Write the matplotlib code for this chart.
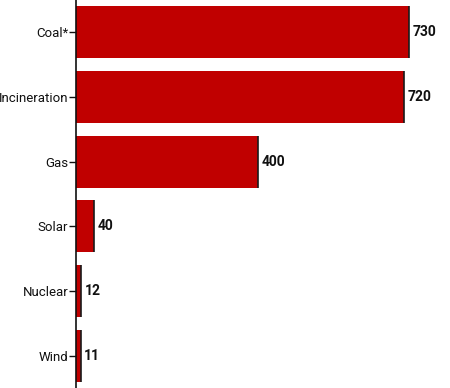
import matplotlib
matplotlib.use("Agg")
import matplotlib.pyplot as plt

plt.rcParams["font.family"] = ["Roboto", "DejaVu Sans"]

categories = ["Coal*", "Incineration", "Gas", "Solar", "Nuclear", "Wind"]
values = [730, 720, 400, 40, 12, 11]
value_labels = ["730", "720", "400", "40", "12", "11"]

fig = plt.figure(figsize=(4.5, 3.88), dpi=100)
ax = fig.add_axes([76/450, 0, 1 - 76/450, 1])

ypos = list(range(len(categories)))
ax.barh(ypos, values, height=0.8, color="#c00000", edgecolor="none")
ax.vlines(values, [y - 0.4 for y in ypos], [y + 0.4 for y in ypos], color="#1a1a1a", lw=1.2)

for y, v, lab in zip(ypos, values, value_labels):
    ax.text(v + 7, y, lab, va="center", ha="left", fontsize=10, fontweight="bold", color="#111111")

ax.set_yticks(ypos)
ax.set_yticklabels(categories, fontsize=9.5, color="#111111")
ax.set_ylim(len(categories) - 0.5, -0.5)
ax.set_xlim(0, 820)
ax.set_xticks([])
for s in ["top", "right", "bottom"]:
    ax.spines[s].set_visible(False)
ax.spines["left"].set_color("#111111")
ax.spines["left"].set_linewidth(1.2)
ax.tick_params(axis="y", length=5, width=1, color="#111111", pad=0.5)

fig.savefig("out.png", dpi=100)
